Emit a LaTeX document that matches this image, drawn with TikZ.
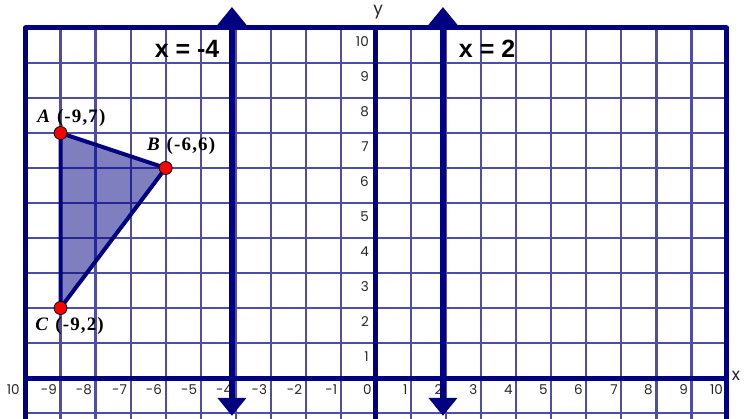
\documentclass[tikz,border=0pt]{standalone}
\usepackage{fontspec}
\setmainfont{Liberation Serif}
\newfontfamily\numfont{Poppins}
\newfontfamily\lblfont{Liberation Sans}
\newfontfamily\ptfont[LetterSpace=6]{Liberation Serif}
\usetikzlibrary{arrows.meta}
\definecolor{navyb}{RGB}{0,0,128}
\definecolor{gridb}{RGB}{78,78,170}
\begin{document}
\begin{tikzpicture}[x=35.05pt,y=35pt,
  gridline/.style={gridb,line width=2.2pt},
  framel/.style={navyb,line width=5pt,line join=round},
  refl/.style={navyb,line width=6pt,{Triangle[length=18pt,width=28pt]}-{Triangle[length=18pt,width=28pt]}},
  num/.style={font=\numfont\fontsize{13.5}{15}\selectfont,text=black!85,inner sep=0pt},
  eqlbl/.style={font=\lblfont\bfseries\fontsize{25}{29}\selectfont,text=black,inner sep=0pt},
  ptlbl/.style={font=\ptfont\bfseries\fontsize{19}{22}\selectfont,text=black,inner sep=0pt},
  dot/.style={fill=red,draw=black,line width=0.8pt}]
\useasboundingbox (-10.727,-1.143) rectangle (10.499,10.8);
% grid
\foreach \i in {-10,...,10} \draw[gridline] (\i,-1.3) -- (\i,10);
\foreach \j in {-1,...,10} \draw[gridline] (-10,\j) -- (10,\j);
% numbers
\foreach \i in {-9,...,-1,1,2,...,10} \node[num,anchor=east] (xl\i) at (\i-0.1,-0.34) {\i};
\node[num,anchor=east] (xl-10) at (-10.16,-0.34) {10};
\node[num,anchor=east] (xl0) at (-0.12,-0.34) {0};
\foreach \j in {1,...,10} \node[num,anchor=east] (yl\j) at (-0.2,\j-0.4) {\j};
\node[num,font=\numfont\fontsize{17}{19}\selectfont] (ylab) at (0.06,10.45) {y};
\node[num,font=\numfont\fontsize{17}{19}\selectfont] (xlab) at (10.27,0.05) {x};
% triangle
\coordinate (A) at (-9,7);
\coordinate (B) at (-6,6);
\coordinate (C) at (-9,2);
\fill[navyb,fill opacity=0.5] (A) -- (B) -- (C) -- cycle;
% frame and axes
\draw[framel] (-10,-1.3) -- (-10,10) -- (10,10) -- (10,-1.3);
\draw[framel] (-10,0) -- (10,0);
\draw[framel] (0,-1.3) -- (0,10);
% reflection lines
\coordinate (m4top) at (-4.11,10.6);
\coordinate (m4bot) at (-4.11,-1.08);
\coordinate (p2top) at (1.91,10.6);
\coordinate (p2bot) at (1.91,-1.08);
\draw[refl] (m4bot) -- (m4top);
\draw[refl] (p2bot) -- (p2top);
% triangle edges
\draw[navyb,line width=4pt,line join=round] (A) -- (B) -- (C) -- cycle;
\fill[dot] (A) circle[radius=6.5pt];
\fill[dot] (B) circle[radius=6.5pt];
\fill[dot] (C) circle[radius=6.5pt];
% labels
\node[eqlbl] (eqm4) at (-5.39,9.4) {x = -4};
\node[eqlbl] (eqp2) at (3.17,9.4) {x = 2};
\node[ptlbl] (lA) at (-8.69,7.43) {\textit{A} (-9,7)};
\node[ptlbl] (lB) at (-5.56,6.63) {\textit{B} (-6,6)};
\node[ptlbl] (lC) at (-8.74,1.49) {\textit{C} (-9,2)};
\end{tikzpicture}
\end{document}
